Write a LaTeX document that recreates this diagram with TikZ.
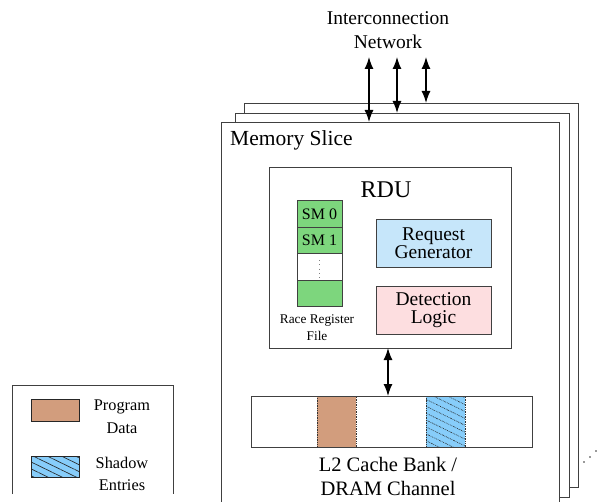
\documentclass[tikz,border=0pt]{standalone}
\usepackage{fontspec}
\setmainfont{Liberation Serif}
\usetikzlibrary{arrows.meta,patterns.meta}

\definecolor{slicegray}{gray}{0.25}
\definecolor{smgreen}{RGB}{125,214,125}
\definecolor{reqblue}{RGB}{198,230,250}
\definecolor{detpink}{RGB}{253,222,224}
\definecolor{progtan}{RGB}{210,157,125}
\definecolor{shadowblue}{RGB}{135,205,250}

\tikzset{
  box/.style={draw=slicegray, line width=0.8pt, inner sep=0pt, outer sep=0pt},
  slicebox/.style={box, fill=white, minimum width=334pt, minimum height=384pt},
  smcell/.style={box, fill=smgreen, minimum width=45pt, minimum height=26.5pt,
    font=\fontsize{16}{18}\selectfont},
  unitbox/.style={box, minimum width=115pt, minimum height=48pt, align=center,
    font=\fontsize{19.5}{18.5}\selectfont},
  biarrow/.style={line width=1.3pt, {Latex[length=12pt,width=9pt]}-{Latex[length=12pt,width=9pt]}},
  shadowfill/.style={fill=shadowblue,
    postaction={pattern={Lines[angle=-26,distance=6.2pt,line width=0.65pt]}, pattern color=black!85}},
  label/.style={align=center, inner sep=0pt},
}

\begin{document}
\begin{tikzpicture}[x=1pt,y=-1pt]
\useasboundingbox (0,0) rectangle (599,502);
\clip (0,0) rectangle (599,502);

% stack of memory slices
\node[slicebox] (slice3) at (411,295) {};
\node[slicebox] (slice2) at (402,305) {};
\node[slicebox, minimum width=338pt, minimum height=388pt] (slice1) at (390,316) {};
\node[anchor=west, inner sep=0pt, font=\fontsize{21.5}{24}\selectfont] (slicelabel) at (230,140) {Memory Slice};

% interconnection network
\node[label, font=\fontsize{19.5}{24}\selectfont] (net) at (388,30) {Interconnection\\Network};
\coordinate (n1) at (369,57);
\coordinate (n2) at (397,57);
\coordinate (n3) at (426,57);
\draw[biarrow] (n1) -- (n1 |- slice1.north);
\draw[biarrow] (n2) -- (n2 |- slice2.north);
\draw[biarrow] (n3) -- (n3 |- slice3.north);

% race detection unit
\node[box, fill=white, minimum width=242pt, minimum height=181pt] (rdu) at (390,257.5) {};
\node[inner sep=0pt, font=\fontsize{24}{26}\selectfont] (rdulabel) at (386,190) {RDU};

\node[smcell] (sm0) at (319.5,214) {SM 0};
\node[smcell] (sm1) at (319.5,240.5) {SM 1};
\node[smcell, fill=white] (smdots) at (319.5,267) {};
\node[smcell] (smn) at (319.5,293.5) {};
\draw[gray, line width=0.8pt, dash pattern=on 0.8pt off 3.5pt] (319.5,260) -- (319.5,278);
\node[label, font=\fontsize{13.3}{17}\selectfont] (rrf) at (317,327.5) {Race Register\\File};

\node[unitbox, fill=reqblue] (reqgen) at (433.5,243) {Request\\Generator};
\node[unitbox, fill=detpink] (detlogic) at (433.5,310) {Detection\\Logic};

% L2 cache bank / DRAM channel
\node[box, fill=white, minimum width=281pt, minimum height=51pt] (cache) at (391.5,421.5) {};
\node[inner sep=0pt, minimum width=39pt, minimum height=51pt, fill=progtan,
  draw=black!80, densely dotted, line width=0.7pt] (progblk) at (336.5,421.5) {};
\node[inner sep=0pt, minimum width=39pt, minimum height=51pt, shadowfill,
  draw=black!80, densely dotted, line width=0.7pt] (shadowblk) at (445.5,421.5) {};
\draw[box] (cache.north west) rectangle (cache.south east);
\node[label, font=\fontsize{20.5}{24}\selectfont] (cachelabel) at (388,476) {L2 Cache Bank /\\DRAM Channel};

\draw[biarrow] (rdu.south -| cachelabel) -- (cache.north -| cachelabel);

% further slices
\foreach \px/\py [count=\i] in {584/462, 590/457, 596/451}
  \fill[black!80] (\px,\py) circle (0.8pt) coordinate (more\i);

% legend
\draw[draw=slicegray, line width=0.8pt] (12,494) -- (12,385) -- (173,385) -- (173,494);
\node[box, draw=black!85, fill=progtan, minimum width=48pt, minimum height=22pt] (legprog) at (55,410) {};
\node[label, font=\fontsize{16.3}{23}\selectfont] (legprogtxt) at (122,417) {Program\\Data};
\node[box, draw=black!85, shadowfill, minimum width=48pt, minimum height=21pt] (legshadow) at (55,466.5) {};
\node[label, font=\fontsize{16.3}{22}\selectfont] (legshadowtxt) at (122,474) {Shadow\\Entries};
\end{tikzpicture}
\end{document}
